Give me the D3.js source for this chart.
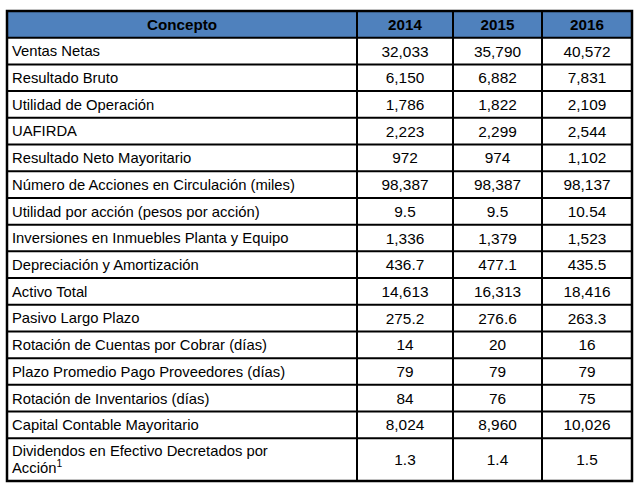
<!DOCTYPE html>
<html>
<head>
<meta charset="utf-8">
<script src="https://cdn.jsdelivr.net/npm/d3@7"></script>
<style>
  body { margin: 0; background: #fff; }
  svg text { font-family: "Liberation Sans", Arial, sans-serif; }
</style>
</head>
<body>
<script>
var years = ['2014', '2015', '2016'];

var conceptos = [
	'Ventas Netas',
	'Resultado Bruto',
	'Utilidad de Operación',
	'UAFIRDA',
	'Resultado Neto Mayoritario',
	'Número de Acciones en Circulación (miles)',
	'Utilidad por acción (pesos por acción)',
	'Inversiones en Inmuebles Planta y Equipo',
	'Depreciación y Amortización',
	'Activo Total',
	'Pasivo Largo Plazo',
	'Rotación de Cuentas por Cobrar (días)',
	'Plazo Promedio Pago Proveedores (días)',
	'Rotación de Inventarios (días)',
	'Capital Contable Mayoritario',
	'Dividendos en Efectivo Decretados por|Acción'
];

var values2014 = ['32,033', '6,150', '1,786', '2,223', '972', '98,387', '9.5', '1,336', '436.7', '14,613', '275.2', '14', '79', '84', '8,024', '1.3'];
var values2015 = ['35,790', '6,882', '1,822', '2,299', '974', '98,387', '9.5', '1,379', '477.1', '16,313', '276.6', '20', '79', '76', '8,960', '1.4'];
var values2016 = ['40,572', '7,831', '2,109', '2,544', '1,102', '98,137', '10.54', '1,523', '435.5', '18,416', '263.3', '16', '79', '75', '10,026', '1.5'];

var width = 642,
	height = 492;
var box = {left: 7, right: 632, top: 11, bottom: 481};

var svg = d3.select('body')
		.append('svg')
		.attr('width', width)
		.attr('height', height)

var series = [values2014, values2015, values2016];
var rows = conceptos.map((c, i) => {
	return {label: c.split('|'), vals: series.map(s => s[i])};
});

// row units: header + rows, wrapped rows take more room
var units = [1].concat(rows.map(r => r.label.length > 1 ? 1.6 : 1));
var cum = [0];
units.forEach(u => cum.push(cum[cum.length - 1] + u));

var yScale = d3.scaleLinear()
	.domain([0, cum[cum.length - 1]])
	.range([box.top, box.bottom]);

// column widths relative
var colUnits = [350, 96, 89, 90];
var colCum = [0];
colUnits.forEach(u => colCum.push(colCum[colCum.length - 1] + u));

var xScale = d3.scaleLinear()
	.domain([0, colCum[colCum.length - 1]])
	.range([box.left, box.right]);

var fs = 14.8;

// header background
svg.append('rect')
	.attr('x', box.left)
	.attr('y', yScale(0))
	.attr('width', box.right - box.left)
	.attr('height', yScale(1) - yScale(0))
	.attr('fill', '#4f81bd');

var header = ['Concepto'].concat(years);
svg.selectAll('.head')
	.data(header)
	.enter()
	.append('text')
	.attr('class', 'head')
	.attr('x', (d, i) => (xScale(colCum[i]) + xScale(colCum[i + 1])) / 2)
	.attr('y', (yScale(0) + yScale(1)) / 2)
	.attr('dy', '0.36em')
	.attr('text-anchor', 'middle')
	.attr('font-size', fs + 0.4)
	.attr('font-weight', 'bold')
	.attr('fill', '#000')
	.text(d => d);

var rowG = svg.selectAll('.row')
	.data(rows)
	.enter()
	.append('g')
	.attr('class', 'row');

rowG.each(function(d, i) {
	var g = d3.select(this);
	var y0 = yScale(cum[i + 1]),
		y1 = yScale(cum[i + 2]);
	var mid = (y0 + y1) / 2;
	var lh = 17;
	d.label.forEach((line, k) => {
		var t = g.append('text')
			.attr('x', xScale(0) + 5)
			.attr('y', mid + (k - (d.label.length - 1) / 2) * lh)
			.attr('dy', '0.36em')
			.attr('font-size', fs)
			.attr('fill', '#000')
			.text(line);
		if (k === d.label.length - 1 && d.label.length > 1) {
			t.append('tspan')
				.attr('font-size', fs * 0.7)
				.attr('dy', '-0.6em')
				.text('1');
		}
	});
	d.vals.forEach((v, j) => {
		g.append('text')
			.attr('x', (xScale(colCum[j + 1]) + xScale(colCum[j + 2])) / 2)
			.attr('y', mid)
			.attr('dy', '0.36em')
			.attr('text-anchor', 'middle')
			.attr('font-size', fs + 0.6)
			.attr('fill', '#000')
			.text(v);
	});
});

// grid lines
svg.selectAll('.hline')
	.data(cum.slice(1, cum.length - 1))
	.enter()
	.append('line')
	.attr('x1', box.left)
	.attr('x2', box.right)
	.attr('y1', d => yScale(d))
	.attr('y2', d => yScale(d))
	.attr('stroke', '#000')
	.attr('stroke-width', 2);

svg.selectAll('.vline')
	.data(colCum.slice(1, colCum.length - 1))
	.enter()
	.append('line')
	.attr('x1', d => xScale(d))
	.attr('x2', d => xScale(d))
	.attr('y1', box.top)
	.attr('y2', box.bottom)
	.attr('stroke', '#000')
	.attr('stroke-width', 2);

svg.append('rect')
	.attr('x', box.left)
	.attr('y', box.top)
	.attr('width', box.right - box.left)
	.attr('height', box.bottom - box.top)
	.attr('fill', 'none')
	.attr('stroke', '#000')
	.attr('stroke-width', 2.5);
</script>
</body>
</html>
